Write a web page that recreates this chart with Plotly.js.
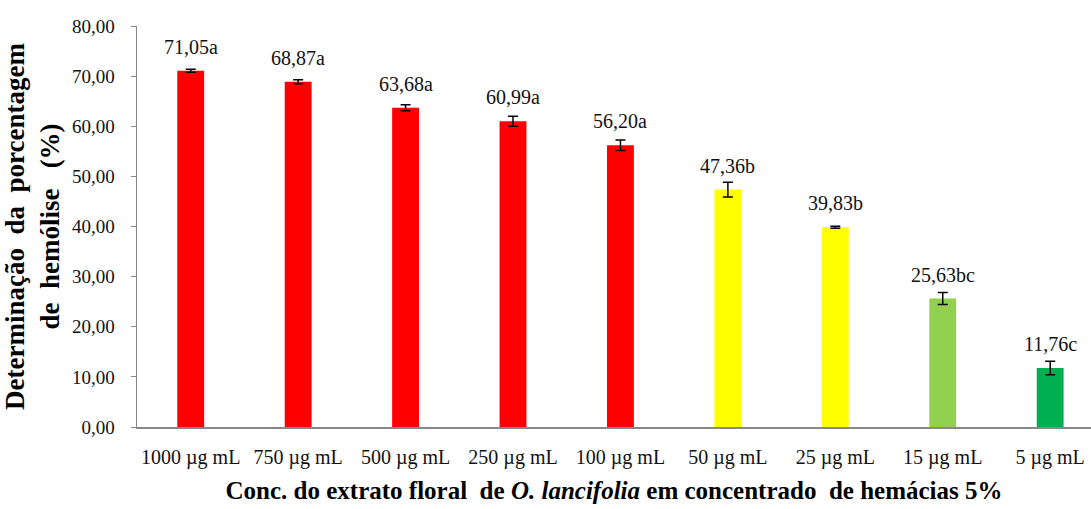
<!DOCTYPE html>
<html>
<head>
<meta charset="utf-8">
<script src="https://cdn.plot.ly/plotly-3.0.1.min.js"></script>
<style>html,body{margin:0;padding:0;background:#fff;}#chart{width:1091px;height:509px;}</style>
</head>
<body>
<div id="chart"></div>
<script>
const categories = ['1000 µg mL','750 µg mL','500 µg mL','250 µg mL','100 µg mL','50 µg mL','25 µg mL','15 µg mL','5 µg mL'];
const hemolysis = [71.05, 68.87, 63.68, 60.99, 56.20, 47.36, 39.83, 25.63, 11.76];
const errors = [0.3, 0.4, 0.6, 1.0, 1.05, 1.45, 0.2, 1.2, 1.35];
const letters = ['a','a','a','a','a','b','b','bc','c'];
const barColors = ['#FF0000','#FF0000','#FF0000','#FF0000','#FF0000','#FFFF00','#FFFF00','#92D050','#00B050'];
const yTicks = [0,10,20,30,40,50,60,70,80];

const font = 'Liberation Serif, Times New Roman, serif';

const trace = {
  type: 'bar',
  x: categories,
  y: hemolysis,
  width: 0.25,
  marker: {color: barColors, line: {width: 0}},
  error_y: {type: 'data', array: errors, visible: true, color: '#000', thickness: 1.5, width: 5},
  hoverinfo: 'none'
};

const annotations = categories.map((c, i) => ({
  x: c, y: hemolysis[i], xref: 'x', yref: 'y',
  text: hemolysis[i].toFixed(2).replace('.', ',') + letters[i],
  showarrow: false, yshift: 24, yanchor: 'middle', xanchor: 'center',
  font: {family: font, size: 20, color: '#111'}
}));

const layout = {
  width: 1091, height: 509,
  margin: {l: 137, r: 0, t: 26, b: 82},
  paper_bgcolor: '#fff', plot_bgcolor: '#fff',
  separators: ',.',
  showlegend: false,
  font: {family: font, color: '#111'},
  xaxis: {
    type: 'category',
    categoryorder: 'array', categoryarray: categories,
    range: [-0.5, 8.38],
    showline: true, linecolor: '#888', linewidth: 1.5,
    ticks: '', showgrid: false, zeroline: false,
    tickfont: {family: font, size: 20, color: '#111'},
    ticklabelstandoff: 11,
    title: {text: '<b>Conc. do extrato floral  de <i>O. lancifolia</i> em concentrado  de hemácias 5%</b>',
            font: {family: font, size: 25, color: '#000'}, standoff: 14}
  },
  yaxis: {
    range: [0, 80],
    tickvals: yTicks, tickformat: '.2f',
    showline: true, linecolor: '#888', linewidth: 1.5,
    ticks: 'outside', ticklen: 5, tickcolor: '#888', tickwidth: 1,
    showgrid: false, zeroline: false,
    tickfont: {family: font, size: 19, color: '#111'},
    ticklabelstandoff: 12,
    title: {text: '<b>Determinação  da  porcentagem<br>de  hemólise   (%)</b>',
            font: {family: font, size: 27, color: '#000'}, standoff: 5}
  },
  annotations: annotations
};

Plotly.newPlot('chart', [trace], layout, {displayModeBar: false, staticPlot: true});
</script>
</body>
</html>
